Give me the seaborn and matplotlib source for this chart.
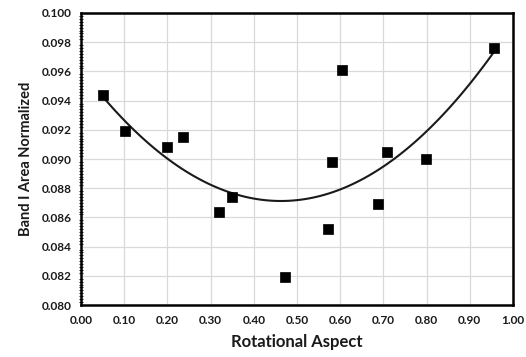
import matplotlib
matplotlib.use("Agg")
import matplotlib.pyplot as plt
import seaborn as sns
import numpy as np
import pandas as pd
from matplotlib.ticker import MultipleLocator, FormatStrFormatter

rot_aspect = [0.050, 0.102, 0.200, 0.237, 0.319, 0.350, 0.472, 0.572, 0.581, 0.605, 0.688, 0.708, 0.799, 0.957]
band_area = [0.0944, 0.0919, 0.0908, 0.0915, 0.0864, 0.0874, 0.0819, 0.0852, 0.0898, 0.0961, 0.0869, 0.0905, 0.0900, 0.0976]

df = pd.DataFrame({"Rotational Aspect": rot_aspect, "Band I Area Normalized": band_area})

sns.set_theme(style="white")
plt.rcParams['font.family'] = ['Lato', 'DejaVu Sans']

fig = plt.figure(figsize=(5.26, 3.57), dpi=100)
ax = fig.add_axes([81/526, 1-305/357, (513-81)/526, (305-13)/357])

sns.regplot(data=df, x="Rotational Aspect", y="Band I Area Normalized", order=2, ci=None,
            ax=ax, marker="s", color="black",
            scatter_kws=dict(s=62, edgecolor="black", linewidths=0.5, alpha=1, zorder=3),
            line_kws=dict(lw=1.5, color="#1a1a1a"))

ax.set_xlim(0, 1.0)
ax.set_ylim(0.080, 0.100)
ax.xaxis.set_major_locator(MultipleLocator(0.1))
ax.yaxis.set_major_locator(MultipleLocator(0.002))
ax.yaxis.set_minor_locator(MultipleLocator(0.0002))
ax.xaxis.set_major_formatter(FormatStrFormatter('%.2f'))
ax.yaxis.set_major_formatter(FormatStrFormatter('%.3f'))
ax.grid(True, which='major', color='#d9d9d9', lw=0.9)
ax.set_axisbelow(True)
for s in ax.spines.values():
    s.set_color('black')
    s.set_linewidth(1.8)
ax.tick_params(axis='both', which='major', direction='inout', length=6, width=1.2,
               labelsize=8.5, colors='black', pad=4)
ax.tick_params(axis='y', which='minor', direction='inout', length=3, width=0.8, left=True)
for lab in ax.get_xticklabels() + ax.get_yticklabels():
    lab.set_fontweight('bold')
    lab.set_color('#1a1a1a')
ax.set_xlabel("Rotational Aspect", fontsize=12, fontweight='bold', color='#1a1a1a', labelpad=6)
ax.set_ylabel("Band I Area Normalized", fontsize=10.5, fontweight='bold', color='#1a1a1a', labelpad=6)

fig.savefig("out.png", dpi=100)
